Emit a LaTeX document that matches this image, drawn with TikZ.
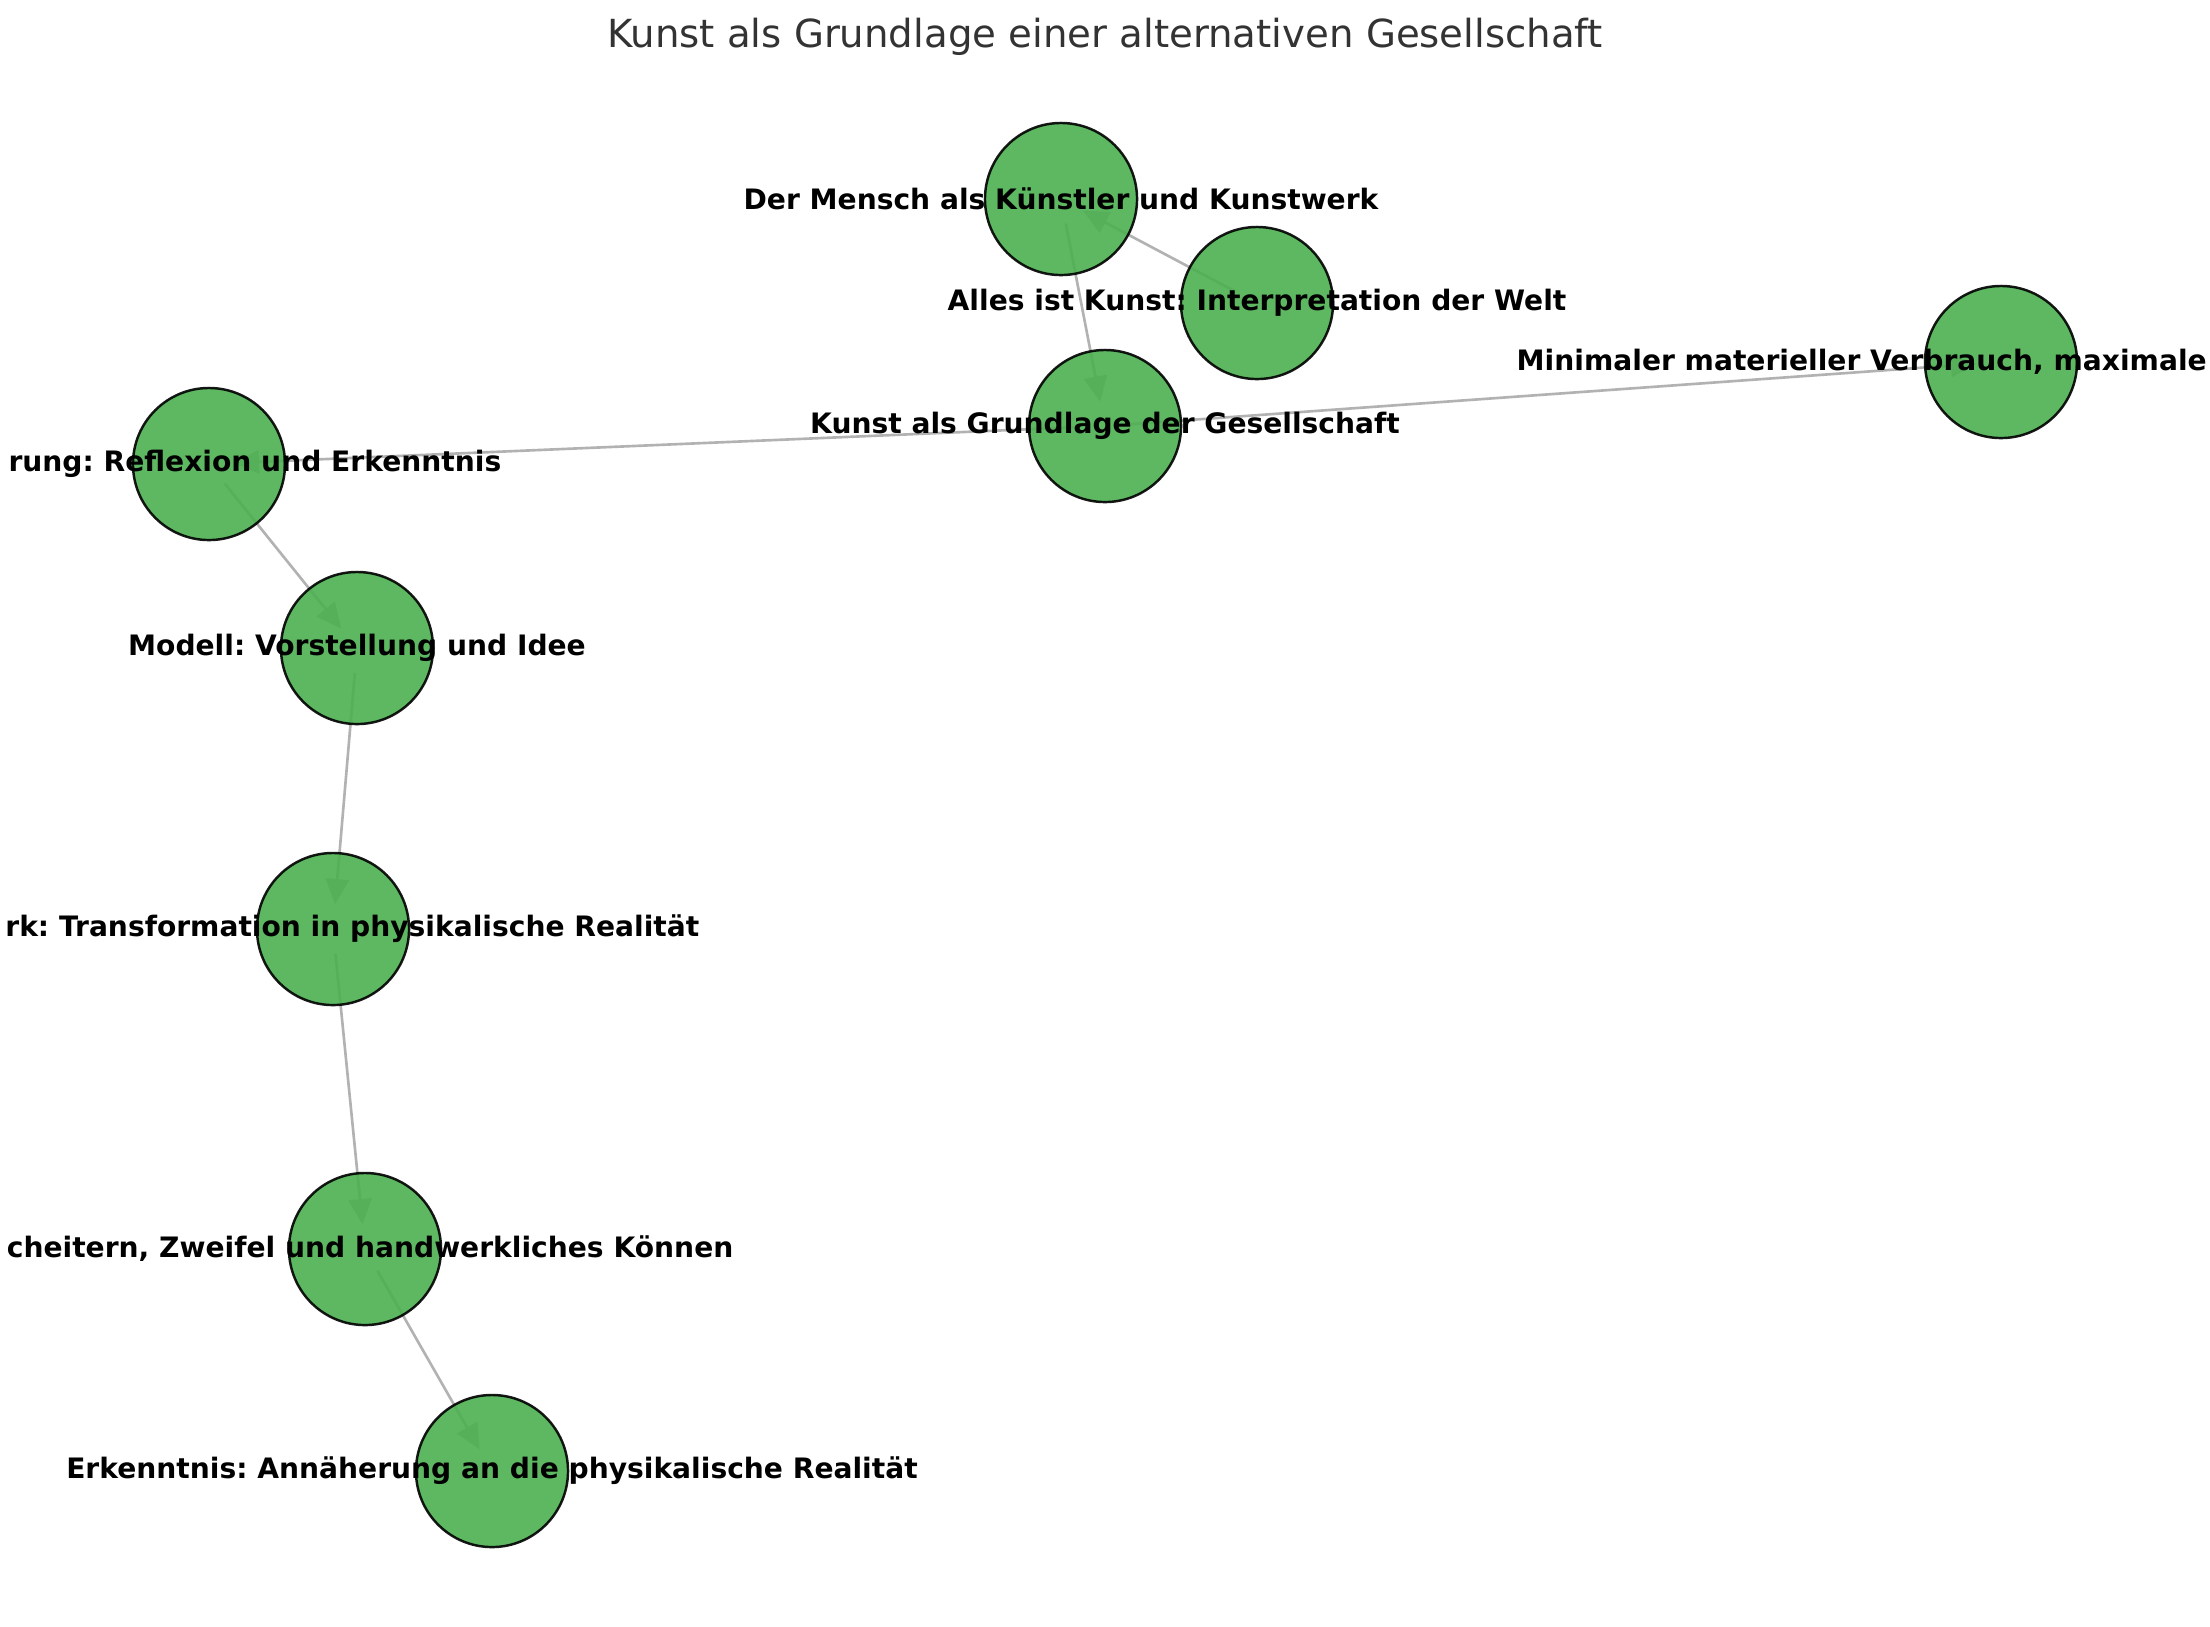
\documentclass[tikz,border=0pt]{standalone}
\usepackage{fontspec}
\setmainfont{DejaVu Sans}
\frenchspacing
\usetikzlibrary{arrows.meta, positioning, backgrounds}
\definecolor{nodegreen}{HTML}{4CAF50}
\definecolor{titlegray}{HTML}{333333}
\tikzset{
  idea/.style={circle, draw=black, fill=nodegreen, fill opacity=0.9, draw opacity=0.9,
    minimum size=1.52cm, inner sep=0pt, line width=0.7pt},
  lbl/.style={font=\fontsize{8}{9.5}\selectfont\bfseries, inner sep=0pt, text=black},
  link/.style={draw=gray!60, line width=0.75pt, -{Triangle[length=0.25cm, width=0.23cm]},
    shorten <=0.25cm, shorten >=0.25cm}
}

\begin{document}
\begin{tikzpicture}[x=0.01cm, y=-0.01cm]
  \useasboundingbox (0,0) rectangle (2210,1626);

  % Title
  \node[font=\fontsize{11}{13}\selectfont, text=titlegray] (title) at (1105, 37)
    {Kunst als Grundlage einer alternativen Gesellschaft};

  % Upper group
  \node[idea] (mensch) at (1061, 199) {};
  \node[idea] (alles) at (1257, 303) {};
  \node[idea] (kunst) at (1105, 426) {};
  \node[idea] (minimal) at (2001, 362) {};

  % Chain on the left
  \node[idea] (reflexion) at (209, 464) {};
  \node[idea] (modell) at (357, 648) {};
  \node[idea] (transform) at (333, 929) {};
  \node[idea] (scheitern) at (365, 1249) {};
  \node[idea] (erkenntnis) at (492, 1471) {};

  % Labels
  \node[lbl] (mensch-l) at (mensch) {Der Mensch als Künstler und Kunstwerk};
  \node[lbl] (alles-l) at (alles) {Alles ist Kunst: Interpretation der Welt};
  \node[lbl] (kunst-l) at (kunst) {Kunst als Grundlage der Gesellschaft};
  \node[lbl, anchor=west] (minimal-l) at (1516, 362) {Minimaler materieller Verbrauch, maximale};
  \node[lbl, anchor=east] (reflexion-l) at (502, 464) {rung: Reflexion und Erkenntnis};
  \node[lbl] (modell-l) at (modell) {Modell: Vorstellung und Idee};
  \node[lbl, anchor=east] (transform-l) at (700, 929) {rk: Transformation in physikalische Realität};
  \node[lbl, anchor=east] (scheitern-l) at (734, 1249) {cheitern, Zweifel und handwerkliches Können};
  \node[lbl] (erkenntnis-l) at (erkenntnis) {Erkenntnis: Annäherung an die physikalische Realität};

  % Connections
  \begin{pgfonlayer}{background}
    \draw[link] (alles.center) -- (mensch.center);
    \draw[link] (mensch.center) -- (kunst.center);
    \draw[link] (kunst.center) -- (minimal.center);
    \draw[link] (kunst.center) -- (reflexion.center);
    \draw[link] (reflexion.center) -- (modell.center);
    \draw[link] (modell.center) -- (transform.center);
    \draw[link] (transform.center) -- (scheitern.center);
    \draw[link] (scheitern.center) -- (erkenntnis.center);
  \end{pgfonlayer}
\end{tikzpicture}
\end{document}
